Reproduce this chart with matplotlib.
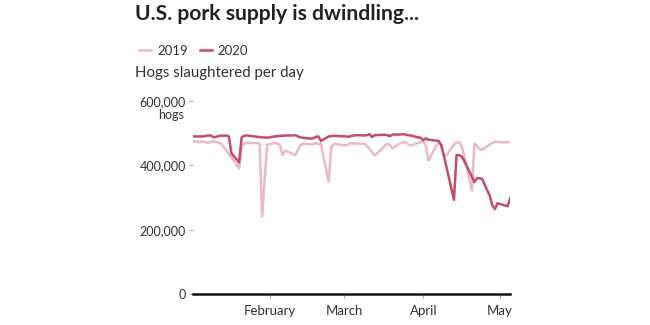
import matplotlib
matplotlib.use("Agg")
import matplotlib.pyplot as plt
import numpy as np
import pandas as pd

# weekday dates (2019 values aligned onto the same calendar days)
dates = pd.to_datetime([
    "2020-01-02", "2020-01-03", "2020-01-06", "2020-01-07", "2020-01-08", "2020-01-09", "2020-01-10",
    "2020-01-13", "2020-01-14", "2020-01-15", "2020-01-16", "2020-01-17",
    "2020-01-20", "2020-01-21", "2020-01-22", "2020-01-23", "2020-01-24",
    "2020-01-27", "2020-01-28", "2020-01-29", "2020-01-30", "2020-01-31",
    "2020-02-03", "2020-02-04", "2020-02-05", "2020-02-06", "2020-02-07",
    "2020-02-10", "2020-02-11", "2020-02-12", "2020-02-13", "2020-02-14",
    "2020-02-17", "2020-02-18", "2020-02-19", "2020-02-20", "2020-02-21",
    "2020-02-24", "2020-02-25", "2020-02-26", "2020-02-27", "2020-02-28",
    "2020-03-02", "2020-03-03", "2020-03-04", "2020-03-05", "2020-03-06",
    "2020-03-09", "2020-03-10", "2020-03-11", "2020-03-12", "2020-03-13",
    "2020-03-16", "2020-03-17", "2020-03-18", "2020-03-19", "2020-03-20",
    "2020-03-23", "2020-03-24", "2020-03-25", "2020-03-26", "2020-03-27",
    "2020-03-30", "2020-03-31", "2020-04-01", "2020-04-02", "2020-04-03",
    "2020-04-06", "2020-04-07", "2020-04-08", "2020-04-09", "2020-04-10",
    "2020-04-13", "2020-04-14", "2020-04-15", "2020-04-16", "2020-04-17",
    "2020-04-20", "2020-04-21", "2020-04-22", "2020-04-23", "2020-04-24",
    "2020-04-27", "2020-04-28", "2020-04-29", "2020-04-30", "2020-05-01",
    "2020-05-04", "2020-05-05",
])

# thousands of hogs per day
hogs_2019 = [
    475, 474, 474, 472, 470, 473, 476,
    468, 456, 448, 435, 425,
    390, 462, 468, 470, 470,
    469, 468, 240, 360, 465,
    470, 468, 462, 432, 446,
    436, 432, 448, 462, 468,
    465, 466, 470, 465, 468,
    348, 455, 467, 466, 465,
    462, 468, 468, 468, 468,
    467, 460, 452, 440, 431,
    452, 462, 468, 462, 453,
    469, 472, 473, 466, 462,
    470, 472, 474, 462, 415,
    460, 470, 466, 431, 431,
    465, 471, 472, 460, 430,
    322, 468, 460, 452, 448,
    465, 470, 473, 473, 472,
    472, 473,
]
hogs_2020 = [
    490, 490, 490, 492, 493, 493, 487,
    493, 492, 493, 490, 438,
    409, 487, 492, 493, 492,
    489, 488, 487, 487, 486,
    490, 491, 492, 492, 493,
    493, 494, 490, 487, 486,
    483, 484, 489, 490, 476,
    490, 491, 492, 492, 491,
    490, 489, 492, 493, 494,
    493, 494, 497, 488, 494,
    495, 495, 494, 491, 496,
    496, 497, 496, 494, 493,
    487, 486, 478, 484, 480,
    477, 476, 463, 431, 397,
    293, 432, 432, 428, 414,
    365, 348, 360, 360, 358,
    305, 276, 264, 282, 280,
    273, 298,
]

y_ticks = [0, 200000, 400000, 600000]
month_ticks = pd.to_datetime(["2020-02-01", "2020-03-01", "2020-04-01", "2020-05-01"])
month_labels = ["February", "March", "April", "May"]

c2019 = "#ebbac4"
c2020 = "#c24d68"
txt = "#333333"

plt.rcParams["font.family"] = ["Lato", "DejaVu Sans"]

fig = plt.figure(figsize=(6.5, 3.25), dpi=100)
ax = fig.add_axes([0.297, 0.0954, 0.488, 0.5936])

l19, = ax.plot(dates, np.array(hogs_2019) * 1000, color=c2019, lw=1.8)
l20, = ax.plot(dates, np.array(hogs_2020) * 1000, color=c2020, lw=1.8)

ax.set_ylim(0, 600000)
ax.set_xlim(dates[0], dates[-1])
ax.set_yticks(y_ticks)
ax.set_yticklabels(["{:,}".format(v) for v in y_ticks])
ax.set_xticks(month_ticks)
ax.set_xticklabels(month_labels)

for s in ["top", "right", "left"]:
    ax.spines[s].set_visible(False)
ax.spines["bottom"].set_linewidth(1.8)
ax.spines["bottom"].set_color("#111111")

ax.tick_params(axis="y", length=3, width=0.6, color="#999999", pad=2, labelsize=9, labelcolor=txt)
ax.tick_params(axis="x", length=3, width=0.6, color="#999999", pad=5, labelsize=9.5, labelcolor=txt)

ax.text(-0.028, 0.93, "hogs", transform=ax.transAxes, ha="right", va="center",
        fontsize=9, color=txt)

fig.text(0.207, 0.958, "U.S. pork supply is dwindling...", fontsize=15.2, fontweight="bold",
         color="#222222", ha="left", va="center")
fig.legend(handles=[l19, l20], labels=["2019", "2020"], loc="center left",
           bbox_to_anchor=(0.196, 0.843), ncol=2, frameon=False, fontsize=9.5,
           handlelength=0.9, handletextpad=0.45, columnspacing=0.9, labelcolor=txt)
fig.text(0.208, 0.775, "Hogs slaughtered per day", fontsize=10.8, color=txt,
         ha="left", va="center")

fig.savefig("out.png", dpi=100)
